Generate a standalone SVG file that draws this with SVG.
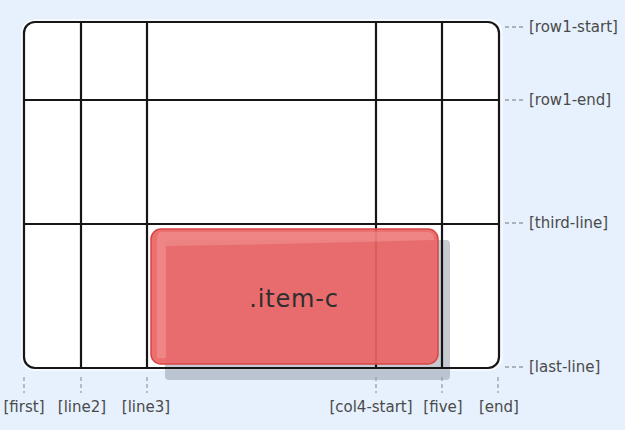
<svg xmlns="http://www.w3.org/2000/svg" width="625" height="430" viewBox="0 0 625 430">
<defs>
<style>
.grid{fill:none;stroke:#161616;stroke-width:2.2;stroke-linecap:round}
.tick{stroke:#9a9ea4;stroke-width:1.3;stroke-dasharray:4,3}
.lbl{font-family:"DejaVu Sans",sans-serif;font-size:15px;fill:#4a4a4a}
</style>
</defs>
<rect width="625" height="430" fill="#e6f1fd"/>
<g id="grid-container">
<rect x="21" y="19" width="482" height="352" rx="14" fill="#ffffff" opacity="0.6"/>
<rect x="24" y="22" width="475" height="346" rx="11" fill="#ffffff"/>
</g>
<rect id="shadow" x="165" y="240" width="285" height="140" rx="4" fill="#97a1ad" opacity="0.55"/>
<g id="grid-lines">
<rect class="grid" x="24" y="22" width="475" height="346" rx="11"/>
<line class="grid" x1="81" y1="22" x2="81" y2="368"/>
<line class="grid" x1="147" y1="22" x2="147" y2="368"/>
<line class="grid" x1="376" y1="22" x2="376" y2="368"/>
<line class="grid" x1="442" y1="22" x2="442" y2="368"/>
<line class="grid" x1="24" y1="100" x2="499" y2="100"/>
<line class="grid" x1="24" y1="224" x2="499" y2="224"/>
</g>
<g id="item-c">
<rect x="151" y="229" width="287" height="135" rx="10" fill="#ea6464" fill-opacity="0.92" stroke="#d84545" stroke-width="1.5"/>
<path d="M161,232 H428 Q434,232 434,240 Q300,244 166,246 V358 H157 V240 Q157,232 161,232 Z" fill="#f5a5a5" opacity="0.4"/>
<text x="294" y="307" text-anchor="middle" font-family="DejaVu Sans,sans-serif" font-size="24" letter-spacing="0.8" fill="#2e2e2e">.item-c</text>
</g>
<g id="connectors">
<line class="tick" x1="24" y1="377" x2="24" y2="393"/>
<line class="tick" x1="81" y1="377" x2="81" y2="393"/>
<line class="tick" x1="147" y1="377" x2="147" y2="393"/>
<line class="tick" x1="376" y1="377" x2="376" y2="393"/>
<line class="tick" x1="442" y1="377" x2="442" y2="393"/>
<line class="tick" x1="498" y1="377" x2="498" y2="393"/>
<line class="tick" x1="505" y1="27" x2="523" y2="27"/>
<line class="tick" x1="505" y1="100" x2="523" y2="100"/>
<line class="tick" x1="505" y1="223" x2="523" y2="223"/>
<line class="tick" x1="505" y1="367" x2="523" y2="367"/>
</g>
<g id="labels">
<text class="lbl" x="529" y="32">[row1-start]</text>
<text class="lbl" x="529" y="105">[row1-end]</text>
<text class="lbl" x="529" y="228">[third-line]</text>
<text class="lbl" x="529" y="372">[last-line]</text>
<text class="lbl" x="24" y="412" text-anchor="middle">[first]</text>
<text class="lbl" x="82" y="412" text-anchor="middle">[line2]</text>
<text class="lbl" x="146" y="412" text-anchor="middle">[line3]</text>
<text class="lbl" x="371" y="412" text-anchor="middle">[col4-start]</text>
<text class="lbl" x="443" y="412" text-anchor="middle">[five]</text>
<text class="lbl" x="499" y="412" text-anchor="middle">[end]</text>
</g>
</svg>
